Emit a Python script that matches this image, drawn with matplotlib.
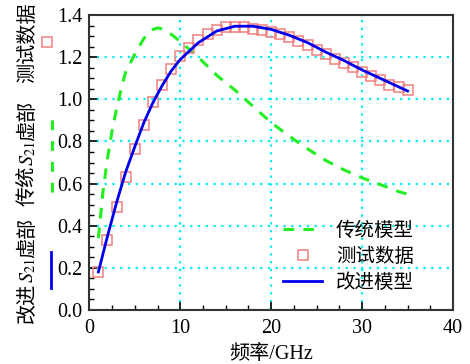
import matplotlib
matplotlib.use("Agg")
import matplotlib.pyplot as plt
from matplotlib.lines import Line2D
import numpy as np

plt.rcParams['font.family'] = ['Liberation Serif', 'Noto Sans CJK SC']
plt.rcParams['mathtext.fontset'] = 'stix'

# measured data (GHz, imag S21)
meas_f = list(range(1, 36))
meas_y = [0.18, 0.33, 0.49, 0.63, 0.765, 0.88, 0.986, 1.07, 1.146, 1.205,
          1.245, 1.281, 1.311, 1.329, 1.343, 1.345, 1.342, 1.335, 1.329, 1.321,
          1.313, 1.297, 1.276, 1.257, 1.237, 1.216, 1.192, 1.173, 1.152, 1.130,
          1.110, 1.090, 1.070, 1.058, 1.043]

# improved model
imp_f = [1, 2, 3, 4, 5, 6, 7, 8, 9, 10, 12, 14, 16, 18, 20, 22, 24, 26, 28, 30, 32, 34, 35]
imp_y = [0.18, 0.35, 0.51, 0.655, 0.775, 0.89, 0.985, 1.065, 1.135, 1.19, 1.27, 1.325,
         1.348, 1.348, 1.333, 1.305, 1.27, 1.225, 1.185, 1.14, 1.10, 1.06, 1.04]

# traditional model
trad_f = [1, 1.5, 2, 2.5, 3, 3.5, 4, 5, 6, 7, 7.5, 8, 9, 10, 12, 14, 16, 18, 20, 22,
          24, 26, 28, 30, 32, 34, 35]
trad_y = [0.34, 0.56, 0.72, 0.85, 0.955, 1.05, 1.13, 1.215, 1.29, 1.332, 1.34, 1.335,
          1.31, 1.275, 1.20, 1.115, 1.045, 0.967, 0.89, 0.825, 0.765, 0.71, 0.665,
          0.627, 0.595, 0.562, 0.55]

xticks = [0, 10, 20, 30, 40]
yticks = [0.0, 0.2, 0.4, 0.6, 0.8, 1.0, 1.2, 1.4]
legend_labels = ['传统模型', '测试数据', '改进模型']

W, H = 470, 364
fig = plt.figure(figsize=(W / 100, H / 100), dpi=100)
ax = fig.add_axes([0.19, 0.149, 0.774, 0.809])

green = '#22ee22'
red = '#f08080'
blue = '#0000ee'
ax.plot(trad_f, trad_y, color=green, lw=2.2, dashes=(3.5, 3.0))
ax.plot(meas_f, meas_y, ls='none', marker='s', ms=6.8, mfc='none', mec=red, mew=1.1)
ax.plot(imp_f, imp_y, color=blue, lw=2.0)

ax.set_xlim(0, 40)
ax.set_ylim(0, 1.4)
ax.set_xticks(xticks)
ax.set_yticks(yticks)
ax.set_yticklabels([f"{v:.1f}" for v in yticks])
ax.set_xticks(np.arange(0, 40.1, 2.5), minor=True)
ax.set_yticks(np.arange(0, 1.401, 0.05), minor=True)
ax.tick_params(which='major', direction='in', length=6, width=1.2, labelsize=14.5)
ax.tick_params(axis='x', which='major', pad=7)
ax.tick_params(axis='y', which='major', pad=5)
ax.tick_params(which='minor', direction='in', length=3.5, width=1.0)
ax.grid(True, which='major', color='#00eeee', ls=(0, (1, 2.5)), lw=1.6)
for s in ax.spines.values():
    s.set_linewidth(1.5)
    s.set_color('#333333')

ax.set_xlabel('频率/GHz', fontsize=14.5, labelpad=5)

# legend
handles = [Line2D([], [], color=green, lw=2.2, dashes=(3.5, 3.0)),
           Line2D([], [], ls='none', marker='s', ms=6.8, mfc='none', mec=red, mew=1.1),
           Line2D([], [], color=blue, lw=2.0)]
ax.legend(handles, legend_labels, loc='lower right',
          bbox_to_anchor=(0.94, 0.0), frameon=False, fontsize=14,
          handlelength=2.0, handletextpad=0.7, labelspacing=0.4)

# composite y label, built bottom-up from pieces
renderer = fig.canvas.get_renderer()
FS = 14.5
XBASE = 33 / W


def stack(pieces, y0_px):
    y = y0_px / H
    for s in pieces:
        t = fig.text(XBASE, y, s, rotation=90, rotation_mode='anchor',
                     ha='left', va='baseline', fontsize=FS)
        bb = t.get_window_extent(renderer)
        y += bb.height / H


stack(['改进', '$S_{21}$', '虚部'], 364 - 323)
stack(['传统', '$S_{21}$', '虚部'], 364 - 206)
stack(['测试数据'], 364 - 83)

fig.add_artist(Line2D([51 / W, 51 / W], [1 - 288 / H, 1 - 252 / H], color=blue, lw=2.0,
                      transform=fig.transFigure))
fig.add_artist(Line2D([52 / W, 52 / W], [1 - 192 / H, 1 - 118 / H], color=green, lw=2.2,
                      dashes=(3.2, 3.6), transform=fig.transFigure))
fig.add_artist(Line2D([47 / W], [1 - 42 / H], ls='none', marker='s', ms=6.8, mfc='none',
                      mec=red, mew=1.1, transform=fig.transFigure))

fig.savefig('out.png', dpi=100)
